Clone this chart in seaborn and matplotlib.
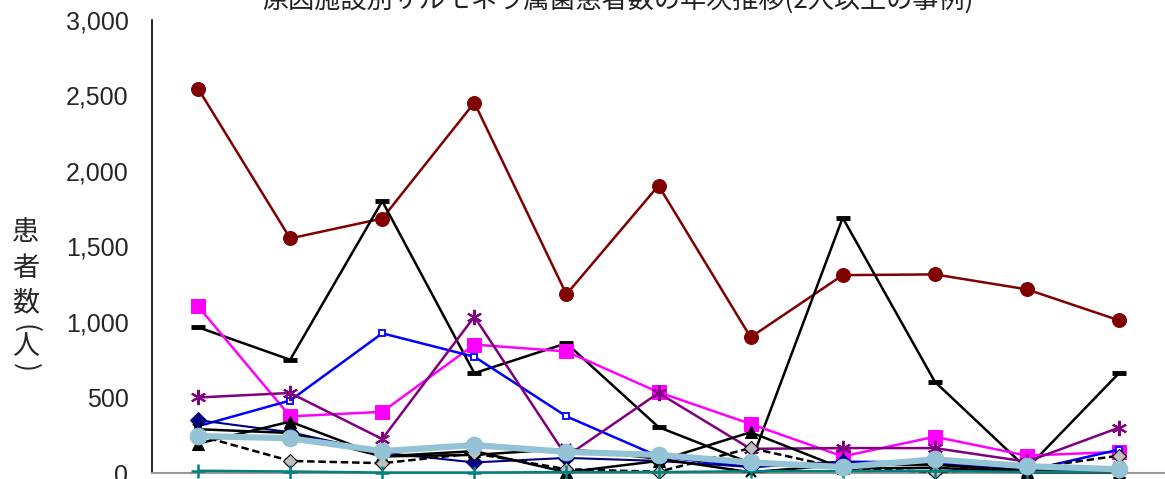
import matplotlib
matplotlib.use("Agg")
import matplotlib.pyplot as plt
import seaborn as sns
import numpy as np

# ---- data ----
years = ["2001", "2002", "2003", "2004", "2005", "2006",
         "2007", "2008", "2009", "2010", "2011"]

maroon_vals  = [2545, 1553, 1685, 2452, 1183, 1903, 899, 1310, 1315, 1216, 1011]
bar_vals     = [965, 750, 1800, 661, 859, 304, 65, 1690, 605, 30, 661]
magenta_vals = [1104, 375, 405, 850, 805, 535, 325, 110, 240, 115, 140]
blue_vals    = [310, 480, 925, 770, 375, 110, 40, 75, 70, 15, 155]
purple_vals  = [500, 530, 225, 1035, 110, 530, 160, 165, 165, 75, 300]
navy_vals    = [350, 270, 135, 70, 100, 80, 40, 70, 60, 20, 20]
tri_vals     = [195, 340, 110, 145, 5, 80, 270, 30, 35, 5, 5]
cross_vals   = [290, 265, 110, 120, 160, 95, 5, 55, 55, 10, 40]
gray_vals    = [250, 80, 65, 130, 25, 8, 165, 30, 8, 30, 115]
teal_vals    = [15, 10, 3, 3, 6, 6, 12, 12, 14, 6, 10]
light_vals   = [245, 230, 145, 185, 140, 120, 70, 40, 90, 45, 25]

title = "原因施設別サルモネラ属菌患者数の年次推移(2人以上の事例)"
# y-label written vertically; brackets are turned to their vertical form
ylabel_chars = ["患", "者", "数", "(", "人", ")"]
ylabel_rot = [0, 0, 0, -90, 0, -90]
ylabel_y = [0.5136, 0.4405, 0.3674, 0.3150, 0.2756, 0.2317]

sns.set_style("white")
plt.rcParams["font.family"] = ["Noto Sans CJK JP", "DejaVu Sans"]

fig = plt.figure(figsize=(11.65, 4.79), dpi=100)
ax = fig.add_axes([0.1305, 0.0125, 0.8695, 0.946])

x = np.arange(len(years))

series = [
    (maroon_vals,  dict(color="#800000", marker="o", markersize=10, linewidth=1.8)),
    (bar_vals,     dict(color="black", marker="_", markersize=10, markeredgewidth=3.5, linewidth=1.8)),
    (magenta_vals, dict(color="#FF00FF", marker="s", markersize=10, linewidth=1.8)),
    (blue_vals,    dict(color="#0000FF", marker="s", markersize=4, markerfacecolor="white",
                        markeredgewidth=1.3, linewidth=1.8)),
    (purple_vals,  dict(color="#800080", marker=(6, 2, 0), markersize=11, markeredgewidth=1.5, linewidth=1.8)),
    (navy_vals,    dict(color="#000080", marker="D", markersize=8, linewidth=1.5)),
    (tri_vals,     dict(color="black", marker="^", markersize=8, linewidth=1.8)),
    (cross_vals,   dict(color="black", marker="x", markersize=7, markeredgewidth=1.5, linewidth=1.8)),
    (gray_vals,    dict(color="black", marker="D", markersize=7, markerfacecolor="#C0C0C0",
                        markeredgewidth=0.8, linewidth=1.8, linestyle=(0, (3, 1.5)))),
    (teal_vals,    dict(color="#008080", marker="+", markersize=10, markeredgewidth=1.8, linewidth=1.8)),
    (light_vals,   dict(color="#93C3D5", marker="o", markersize=12, linewidth=4.5)),
]

for vals, kw in series:
    kw.setdefault("markeredgecolor", kw["color"])
    sns.lineplot(x=x, y=vals, ax=ax, legend=False, zorder=3, clip_on=False, **kw)

ax.set_ylim(0, 3000)
ax.set_xlim(-0.5, len(years) - 0.5)
ax.set_yticks(np.arange(0, 3001, 500))
ax.set_yticklabels([f"{v:,}" for v in range(0, 3001, 500)],
                   fontsize=18, family=["Liberation Sans", "DejaVu Sans"])
ax.tick_params(axis="y", length=0, pad=17)
ax.set_xticks(np.arange(-0.5, len(years)))
ax.set_xticklabels([])
ax.tick_params(axis="x", length=8, width=1.5, color="#999999", direction="out")

for s in ["top", "right"]:
    ax.spines[s].set_visible(False)
ax.spines["left"].set_color("black")
ax.spines["left"].set_linewidth(1.2)
ax.spines["bottom"].set_color("#999999")
ax.spines["bottom"].set_linewidth(1.5)

fig.text(0.53, 0.983, title, ha="center", va="baseline", fontsize=18.8, color="#222222")

for ch, rot, yy in zip(ylabel_chars, ylabel_rot, ylabel_y):
    fig.text(0.022, yy, ch, ha="center", va="center", rotation=rot, fontsize=19.5)

fig.savefig("out.png", dpi=100, facecolor="white")
